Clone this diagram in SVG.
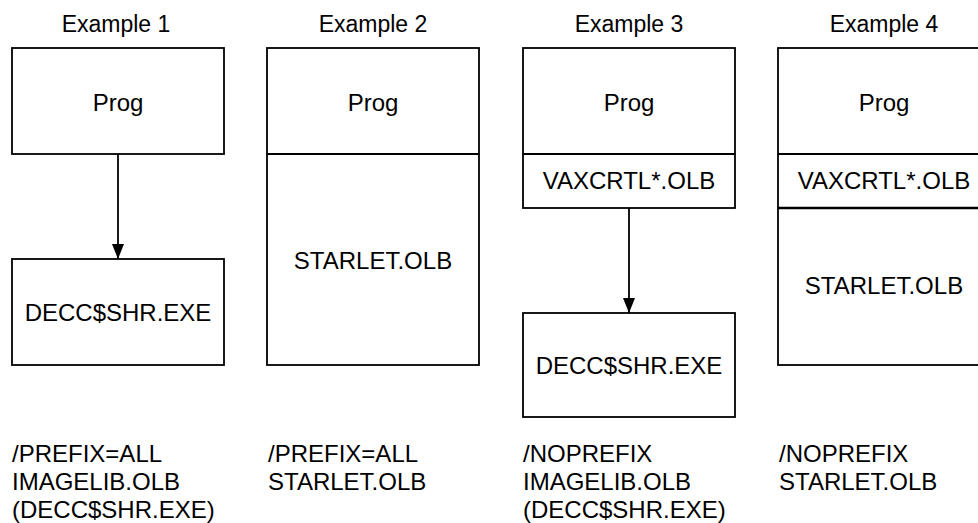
<svg xmlns="http://www.w3.org/2000/svg" width="978" height="523" viewBox="0 0 978 523">
<style>
text{font-family:"Liberation Sans",Arial,sans-serif;font-size:24px;fill:#000}
.c{text-anchor:middle}
.t{font-size:23px}
.box{fill:#fff;stroke:#000;stroke-width:1.8}
.ln{stroke:#000;stroke-width:1.8;fill:none}
</style>
<defs>
<marker id="ah" markerWidth="16" markerHeight="12" refX="15" refY="6" orient="auto" markerUnits="userSpaceOnUse" viewBox="0 0 16 12">
<path d="M0,0 L15,6 L0,12 Z" fill="#000"/>
</marker>
</defs>
<g id="titles">
<text class="c t" x="116" y="32">Example 1</text>
<text class="c t" x="373" y="32">Example 2</text>
<text class="c t" x="629" y="32">Example 3</text>
<text class="c t" x="884" y="32">Example 4</text>
</g>
<g id="ex1-prog">
<rect class="box" x="12" y="48" width="212" height="106"/>
<text class="c" x="118" y="111">Prog</text>
</g>
<g id="ex1-decc">
<rect class="box" x="12" y="259" width="212" height="106"/>
<text class="c" x="118" y="321">DECC$SHR.EXE</text>
</g>
<g id="ex2-stack">
<rect class="box" x="267" y="48" width="212" height="317"/>
<line class="ln" x1="267" y1="154" x2="479" y2="154"/>
<text class="c" x="373" y="111">Prog</text>
<text class="c" x="373" y="269">STARLET.OLB</text>
</g>
<g id="ex3-stack">
<rect class="box" x="523" y="48" width="212" height="160"/>
<line class="ln" x1="523" y1="154" x2="735" y2="154"/>
<text class="c" x="629" y="111">Prog</text>
<text class="c" x="629" y="189">VAXCRTL*.OLB</text>
</g>
<g id="ex3-decc">
<rect class="box" x="523" y="313" width="212" height="104"/>
<text class="c" x="629" y="374">DECC$SHR.EXE</text>
</g>
<g id="ex4-stack">
<rect class="box" x="778" y="48" width="212" height="317"/>
<line class="ln" x1="778" y1="154" x2="990" y2="154"/>
<line x1="778" y1="208" x2="990" y2="208" stroke="#000" stroke-width="2.6"/>
<text class="c" x="884" y="111">Prog</text>
<text class="c" x="884" y="189">VAXCRTL*.OLB</text>
<text class="c" x="884" y="294">STARLET.OLB</text>
</g>
<g id="connectors">
<line class="ln" x1="118" y1="154" x2="118" y2="259" marker-end="url(#ah)"/>
<line class="ln" x1="629" y1="208" x2="629" y2="313" marker-end="url(#ah)"/>
</g>
<g id="notes">
<text x="12" y="462">/PREFIX=ALL</text>
<text x="12" y="490">IMAGELIB.OLB</text>
<text x="12" y="518">(DECC$SHR.EXE)</text>
<text x="268" y="462">/PREFIX=ALL</text>
<text x="268" y="490">STARLET.OLB</text>
<text x="523" y="462">/NOPREFIX</text>
<text x="523" y="490">IMAGELIB.OLB</text>
<text x="523" y="518">(DECC$SHR.EXE)</text>
<text x="779" y="462">/NOPREFIX</text>
<text x="779" y="490">STARLET.OLB</text>
</g>
</svg>
